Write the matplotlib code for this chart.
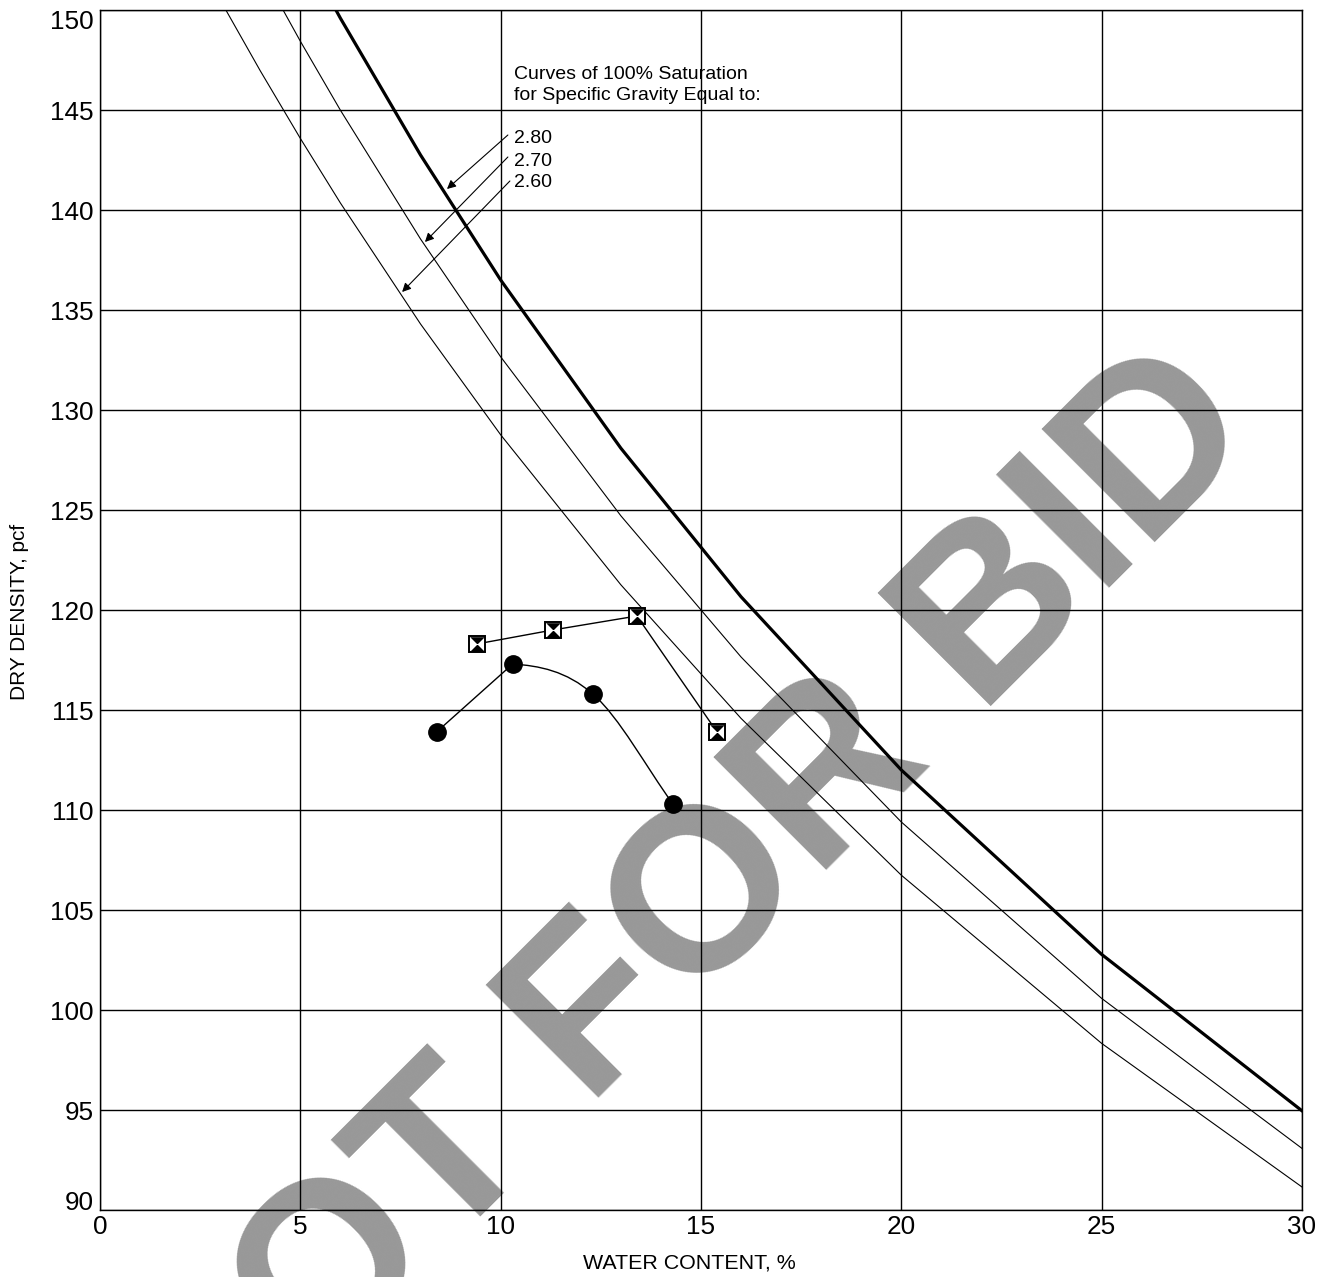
import matplotlib.pyplot as plt
from matplotlib.path import Path
from matplotlib.patches import PathPatch

plt.rcParams['font.family'] = ['Liberation Sans', 'DejaVu Sans']

# curves of 100% saturation (zero air voids)
zav_w_280 = [5, 6, 8, 10, 13, 16, 20, 25, 30]
zav_d_280 = [153.26, 149.59, 142.75, 136.50, 128.09, 120.66, 112.00, 102.78, 94.96]
zav_w_270 = [4, 5, 6, 8, 10, 13, 16, 20, 25, 30]
zav_d_270 = [152.06, 148.44, 144.99, 138.55, 132.66, 124.71, 117.65, 109.40, 100.58, 93.08]
zav_w_260 = [3, 4, 5, 6, 8, 10, 13, 16, 20, 25, 30]
zav_d_260 = [150.50, 146.96, 143.58, 140.35, 134.30, 128.76, 121.26, 114.58, 106.74, 98.33, 91.15]

# compaction test points
circ_w = [8.4, 10.3, 12.3, 14.3]
circ_d = [113.9, 117.3, 115.8, 110.3]
sq_w = [9.4, 11.3, 13.4, 15.4]
sq_d = [118.3, 119.0, 119.7, 113.9]

gs_labels = ['2.80', '2.70', '2.60']
x_ticks = [0, 5, 10, 15, 20, 25, 30]
y_ticks = [90, 95, 100, 105, 110, 115, 120, 125, 130, 135, 140, 145, 150]


def smooth_path(xs, ys):
    # first leg straight, the rest drawn as a bezier through the points
    p = list(zip(xs, ys))
    verts = [p[0], p[1]]
    codes = [Path.MOVETO, Path.LINETO]
    tang = []
    for i in range(1, len(p)):
        if i == 1:
            t = ((p[2][0] - p[1][0] + (p[2][0] - p[0][0]) / 2) / 2,
                 (p[2][1] - p[1][1] + (p[2][1] - p[0][1]) / 2) / 2)
        elif i == len(p) - 1:
            t = (p[i][0] - p[i - 1][0], p[i][1] - p[i - 1][1])
        else:
            t = ((p[i + 1][0] - p[i - 1][0]) / 2, (p[i + 1][1] - p[i - 1][1]) / 2)
        tang.append(t)
    for i in range(1, len(p) - 1):
        a, b = p[i], p[i + 1]
        ta, tb = tang[i - 1], tang[i]
        verts += [(a[0] + ta[0] / 3, a[1] + ta[1] / 3),
                  (b[0] - tb[0] / 3, b[1] - tb[1] / 3), b]
        codes += [Path.CURVE4] * 3
    return Path(verts, codes)


fig = plt.figure(figsize=(13.31, 12.77), dpi=100)
fig.patch.set_facecolor('white')
ax = fig.add_axes([100 / 1331, 1 - 1210 / 1277, 1202 / 1331, 1200 / 1277])
ax.set_facecolor('none')

# watermark behind everything
fig.text(730 / 1331, 1 - 967 / 1277, 'NOT FOR BID', fontsize=167, fontweight='bold',
         color='#989898', rotation=45, rotation_mode='anchor',
         ha='center', va='baseline', zorder=-1)

ax.plot(zav_w_280, zav_d_280, color='black', lw=2.3, zorder=3)
ax.plot(zav_w_270, zav_d_270, color='black', lw=0.8, zorder=3)
ax.plot(zav_w_260, zav_d_260, color='black', lw=0.8, zorder=3)

ax.add_patch(PathPatch(smooth_path(circ_w, circ_d), fill=False, lw=1.0,
                       edgecolor='black', zorder=4))
ax.plot(circ_w, circ_d, 'o', color='black', markersize=12.5, zorder=5)

ax.plot(sq_w, sq_d, '-', color='black', lw=1.0, zorder=4)
ax.plot(sq_w, sq_d, 's', markerfacecolor='white', markeredgecolor='black',
        markeredgewidth=1.4, markersize=11.5, zorder=5)
hourglass = [(-1, 1), (1, 1), (-1, -1), (1, -1), (-1, 1)]
ax.plot(sq_w, sq_d, linestyle='none', marker=hourglass, color='black',
        markersize=10.5, markeredgewidth=0, zorder=6)

# annotation
ax.text(10.34, 146.53, 'Curves of 100% Saturation', fontsize=14, ha='left', va='baseline')
ax.text(10.34, 145.50, 'for Specific Gravity Equal to:', fontsize=14, ha='left', va='baseline')
label_y = [143.33, 142.21, 141.13]
arrow_start = [(10.18, 143.75), (10.18, 142.65), (10.23, 141.45)]
arrow_tip = [(8.66, 141.05), (8.11, 138.40), (7.54, 135.90)]
for lab, ly, st, tp in zip(gs_labels, label_y, arrow_start, arrow_tip):
    ax.text(10.34, ly, lab, fontsize=14, ha='left', va='baseline')
    ax.annotate('', xy=tp, xytext=st,
                arrowprops=dict(arrowstyle='-|>', color='black', lw=0.8,
                                mutation_scale=13, shrinkA=0, shrinkB=0))

ax.set_xlim(0, 30)
ax.set_ylim(90, 150)
ax.set_xticks(x_ticks)
ax.set_yticks(y_ticks)
ax.tick_params(length=0, labelsize=18.8)
ax.tick_params(axis='y', pad=4.5)
ax.tick_params(axis='x', pad=3.5)
# end labels of the y axis are kept inside the frame height
ylabels = ax.get_yticklabels()
ylabels[0].set_verticalalignment('baseline')
ylabels[-1].set_verticalalignment('top')
ax.grid(True, color='black', lw=1.0)
for s in ax.spines.values():
    s.set_color('black')
    s.set_linewidth(1.0)

fig.text(689 / 1331, 1 - 1263 / 1277, 'WATER CONTENT, %', fontsize=15.4,
         ha='center', va='center')
fig.text(19.5 / 1331, 1 - 612 / 1277, 'DRY DENSITY, pcf', fontsize=15,
         rotation=90, ha='center', va='center')

plt.savefig('out.png', dpi=100)
